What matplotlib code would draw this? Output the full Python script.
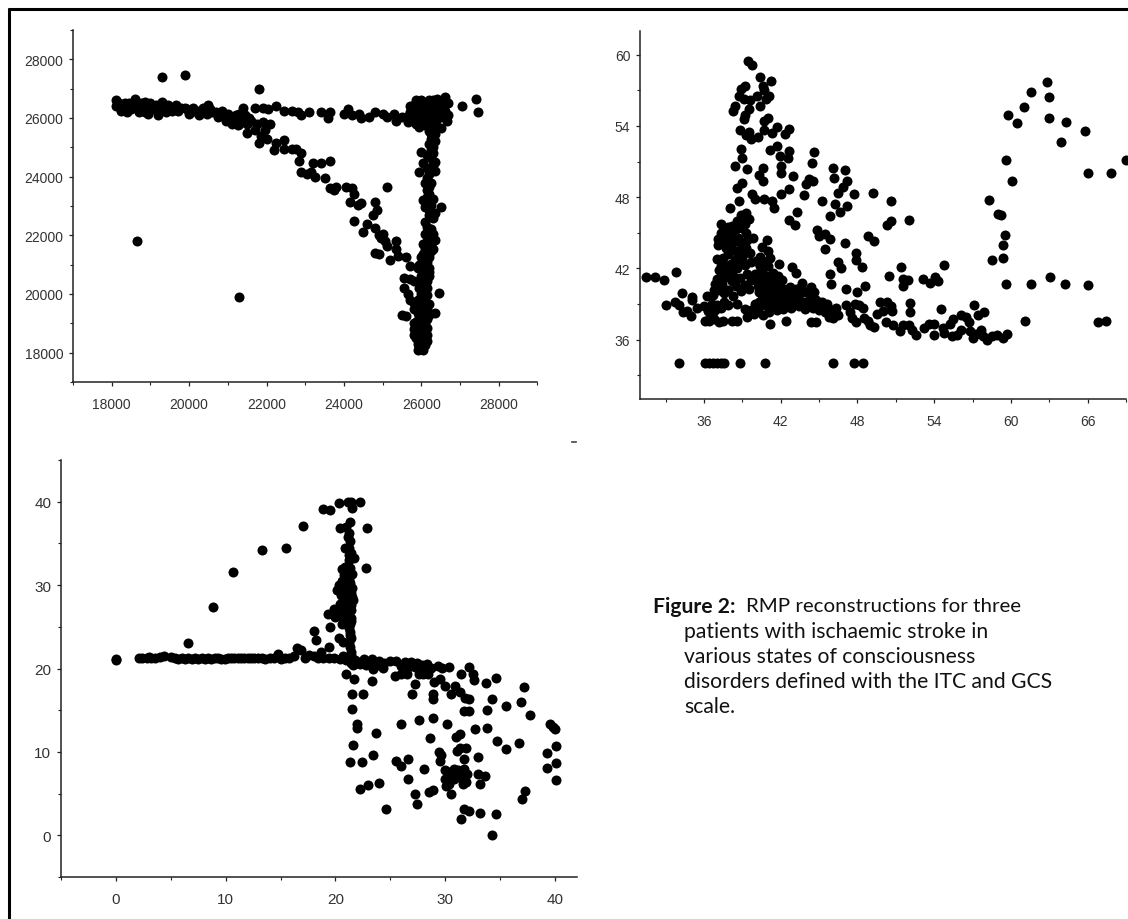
import matplotlib
matplotlib.use("Agg")
import matplotlib.pyplot as plt
from matplotlib.lines import Line2D
from matplotlib.ticker import MultipleLocator

W, H = 1128, 920

# ---------- Panel A ----------
a_outliers = [(19300,27400),(19900,27450),(21800,27000),(18650,21800),(21300,19900),(27050,26400),(27400,26650),(27450,26200),(25100,23650),(26500,22950),(26450,20050)]
a_band_left = [(18100,26620),(18110,26400),(18200,26500),(18300,26350),(18400,26200),(18450,26500),(18500,26300),(18600,26650),(18650,26400),(18700,26200),(18750,26500),(18850,26550),(18900,26300),(18950,26150),(19000,26500),(19100,26300),(19200,26100),(19300,26550),(19350,26300),(19450,26450),(19550,26250),(19650,26450),(19700,26250),(19900,26350),(20000,26150),(20100,26350),(20250,26100),(20350,26350),(20450,26150),(20500,26450),(20600,26200),(20750,26050),(20850,26250),(20950,25900),(21000,26150),(21100,25800),(21200,26100),(21250,25750),(21350,25950),(21400,26350),(21450,26100),(21500,25800)]
a_band_fill = [(18250,26250),(18350,26500),(18550,26500),(18800,26350),(18850,26200),(19050,26400),(19150,26450),(19250,26300),(19400,26200),(19600,26350),(19800,26350),(19950,26300),(20050,26200),(20200,26250),(20300,26200),(20400,26350),(20550,26300),(20700,26200),(20800,26150),(20900,26100),(21050,26000),(21150,25950),(21300,26150),(21550,26000),(21300,25800)]
a_band_right = [(21700,26350),(21900,26350),(22050,26300),(22250,26400),(22450,26250),(22650,26250),(22800,26200),(22900,26100),(23100,26200),(23400,26200),(23600,26000),(23650,26200),(24000,26150),(24100,26300),(24200,26100),(24400,26150),(24450,26000),(24650,26050),(24800,26200),(25000,26150),(25100,26050),(25300,26150),(25350,25900),(25500,26050),(25650,25850),(25700,26200),(25800,26450),(25900,26100),(25950,25700),(26000,26600),(26050,26300),(26150,26000),(26200,26600),(26300,26300),(26350,25800),(26400,26650),(26450,26100),(26500,25650),(26500,26400),(26600,26700),(26600,26250),(26650,25900),(26700,26500),(26700,26100),(25900,26350),(26100,26450),(26250,26150),(26400,26350),(26100,25750),(26300,25600),(26000,25950)]
a_corner_fill = [(25600,26050),(25700,26400),(25850,26600),(25800,26000),(25850,25800),(25950,26250),(25950,26500),(26050,26550),(26050,26100),(26100,25900),(26150,26300),(26150,26550),(26200,25800),(26250,26450),(26250,25950),(26300,26600),(26300,26050),(26350,26450),(26350,26200),(26400,25950),(26400,25700),(26450,26500),(26500,26250),(26550,26500),(26550,26050),(26200,25550),(26250,25450),(26350,25450)]
a_diagonal = [(21600,25900),(21750,25800),(21900,25850),(21500,25500),(21700,25600),(21850,25400),(21800,25150),(22000,25300),(22100,25800),(21950,25600),(22200,24900),(22250,25150),(22450,25250),(22450,24950),(22650,24950),(22750,24950),(22900,24800),(22850,24550),(22900,24150),(23050,24100),(23200,24450),(23150,24150),(23250,24000),(23400,24450),(23500,23950),(23650,24550),(23650,23600),(23750,23550),(23800,23650),(24050,23650),(24200,23600),(24250,23400),(24150,23150),(24350,23050),(24450,23100),(24250,22500),(24800,23150),(24850,22850),(24750,22700),(24600,22400),(24800,22250),(24500,22100),(24900,22000),(25000,22050),(25050,21800),(24950,21900),(25100,21650),(24800,21400),(24900,21350),(25350,21800),(25350,21550),(25200,21150),(25400,21300),(25600,21250),(25700,20950),(25900,20900),(25550,20550),(25700,20500),(25800,20450),(25550,20200),(25650,20000),(25700,19800),(25500,19300),(25800,19700),(25600,19250)]
a_vertical = [(26250,25300),(26350,25200),(26300,25000),(26300,24800),(26000,24850),(26150,24750),(26350,24500),(26050,24450),(26150,24300),(25950,24150),(26350,24200),(26200,24100),(26100,23800),(26200,23650),(26200,23400),(26050,23200),(26300,23250),(26250,23050),(26100,22950),(26350,22750),(26200,22700),(26100,22450),(26250,22200),(26100,22050),(26350,21850),(26200,21900),(26050,21700),(26300,21550),(26150,21400),(26000,21250),(26150,21100),(25950,21000),(26200,20900),(26100,20700),(26200,20600),(25950,20400),(26100,20300),(26050,20100),(26100,19900),(25900,19800),(26200,19650),(26050,19500),(25900,19350),(26350,19350),(26200,19300),(26050,19100),(25850,19050),(26000,18900),(26150,18850),(25800,18800),(25950,18650),(26100,18650),(25850,18500),(26150,18400),(26000,18400),(25900,18300),(26100,18250),(25900,18100),(26050,18100),(25950,18200),(25950,19500),(26000,19800)]
a_leg_fill = [(26200,25100),(26250,24900),(26250,24650),(26300,24400),(26250,24200),(26150,23950),(26250,23800),(26150,23550),(26150,23300),(26250,23200),(26150,23050),(26200,22850),(26300,22600),(26150,22300),(26200,22100),(26300,22050),(26150,21800),(26250,21700),(26100,21550),(26250,21450),(26050,21350),(26200,21250),(26050,21100),(26100,20950),(26050,20800),(26200,20750),(26000,20600),(26150,20450),(26050,20300),(26150,20200),(25950,20200),(26000,20000),(26150,19950),(26050,19800),(26150,19500),(25950,19650),(25800,19500),(26100,19350),(25950,19200),(26150,19150),(25900,18950),(26100,19000),(25800,19000),(26000,18750),(25900,18800),(26150,18600),(25850,18700),(26050,18500),(25950,18450),(25800,18600),(26100,18450),(26000,18250)]

# ---------- Panel B ----------
b_floor = [(34.04,34),(36.1,34),(36.4,34),(36.7,34),(37.0,34),(37.3,34),(37.6,34),(38.8,34),(40.8,34),(46.1,34),(47.75,34),(48.4,34)]
b_left = [(31.5,41.3),(32.2,41.25),(32.9,41),(33.85,41.7),(34.25,39.9),(33.05,38.9),(33.7,39.15),(34.05,38.9),(34.4,38.3),(34.65,38.4),(35,38),(35.05,39.6),(35.1,39.3),(35.45,38.7)]
b_right = [(59.75,54.9),(60.5,54.25),(61,55.6),(61.55,56.9),(62.85,57.7),(63,56.4),(63,54.65),(64.3,54.3),(63.9,52.65),(65.8,53.55),(59.6,51.1),(60.1,49.35),(66,50),(67.8,50.05),(69,51.1),(58.3,47.8),(59,46.6),(59.2,46.5),(59.55,44.85),(59.35,44),(59.35,42.9),(58.5,42.75),(59.6,40.7),(61.55,40.7),(63.05,41.3),(64.2,40.65),(66,40.6),(61.1,37.6),(66.8,37.5),(67.45,37.6)]
b_fan = [(39.45,59.5),(39.75,59.1),(40.4,58.1),(41.25,57.75),(39.2,57.35),(38.9,57.1),(40.65,57.35),(40.7,57),(38.75,56.5),(40.15,56.5),(41.1,56.5),(40.85,56.3),(39.1,56.3),(39.6,56.15),(40.4,55.7),(38.45,55.65),(38.3,55.25),(39.5,55.45),(39.2,54.9),(39.1,54.55),(41,54.65),(40.7,54.45),(38.8,53.65),(39.5,53.45),(39.25,53.2),(39.65,52.9),(40.2,53.05),(40.7,53.7),(41.3,53.4),(41.7,53.9),(42.3,53.3),(42.65,53.75),(38.9,52.05),(41.15,52),(41.75,52.3),(41.95,51.5),(42.65,51.9),(44.6,51.8),(42.55,51.3),(38.95,51.3),(38.45,50.6),(39.4,50.4),(40.6,50.5),(42,50.65),(44.45,50.9),(46.1,50.5),(47.05,50.25),(42,50),(40.3,49.9),(40.6,49.4),(43,49.8),(46.2,49.6),(44.25,49.55),(44.5,49.35),(43.95,49.1),(47.15,49.35),(38.95,49.2),(38.6,48.8),(42.65,48.7),(46.9,48.85),(39.75,48.3),(42,48.3),(46.5,48.35),(43.85,48.2),(47.7,48.3),(49.25,48.35),(40,47.85),(40.7,47.85),(41.35,47.7),(50.6,47.7),(45.25,47.65),(38.75,47.65),(46.25,47.45),(47.15,47.3),(41.5,47.05),(38,47.05),(43.25,46.75),(46.6,46.75),(45.85,46.45),(42.65,46.1),(43.1,45.65),(52.05,46.05),(50.6,46),(50.35,45.65),(44.85,45.2),(45,44.7),(45.5,44.9),(45.85,44.45),(48.85,44.7),(49.3,44.35),(47,44.15),(45.45,43.65),(47.85,43.3),(47.9,42.75),(46.45,42.5),(46.75,42),(48.35,42.15),(51.4,42.15),(54.8,42.3),(42.85,42.15),(43.2,41.65),(41.85,42.4),(45.85,41.5),(50.45,41.4),(53.1,41.15),(54.05,41.3),(51.6,41.15),(51.95,41),(53.7,40.75),(54.3,40.95),(51.6,40.55),(45.95,40.65),(48.6,40.5),(47.1,40.25),(47.95,40),(43.65,40.75)]
b_core = [(37.35,45.75),(37.1,44.5),(37.3,45),(37.1,44),(37.6,45.3),(37.9,45.5),(37.5,44.2),(37.9,44.7),(38.3,45.2),(38.6,46),(38.9,46.5),(39.3,46.7),(39.5,46.2),(39,45.4),(38.7,44.6),(38.2,44.1),(37.7,43.7),(38.5,43.5),(39,44),(39.3,45),(39.8,44.6),(39.6,43.3),(39,42.9),(38.4,42.7),(37,42.8),(37.5,42.9),(37.3,42.2),(37.4,41.5),(38,41.9),(38.6,42),(39.2,42.3),(39.7,42.5),(40.5,43.8),(40.9,44.4),(41,43.5),(40.4,43),(40.9,42.6),(41.2,42.9),(37,41.1),(36.9,40.7),(37.4,40.7),(37.9,40.2),(38.5,40.5),(39.2,40.6),(39.7,41),(40,41.5),(40.5,41.8),(41,41.4),(41.4,41.6),(41.8,41.4),(42.1,41),(40.2,40.5),(40.7,40.9),(41.2,40.7),(41.7,40.4),(42.2,40.3),(42.7,40.4),(40.5,39.8),(41,39.7),(41.5,39.5),(42,39.6),(42.5,39.5),(43,39.7),(43.5,39.9),(44,40),(44.4,40.4),(44.6,40),(43.8,39.2),(44.3,39.4),(44.8,39.3),(45.2,39.2),(45.6,39),(40.8,38.9),(41.3,38.8),(42.2,38.6),(42.8,38.7),(43.4,38.8),(43.9,38.6),(44.5,38.7),(45,38.5),(45.5,38.3),(46,38.4),(46.5,38.1),(46.1,37.8),(45.8,37.9),(47.1,38.9),(44.4,37.5),(44.8,37.5),(42.4,37.6),(41.2,37.3),(36.1,37.6),(36.4,37.6),(36.3,38.4),(36.6,39),(36.7,39.8),(36.2,39.7),(36,38.8),(37.2,37.5),(37.5,37.6),(38.2,37.6),(38.6,37.6),(39.4,37.9),(39.7,38.5),(39.2,38.6),(38.6,39),(38.3,39.7),(37.6,39.2),(37,38.9),(40.2,38.5),(40.6,38.1),(41.1,38.3)]
b_core_fill = [(37.4,44.6),(37.7,44.9),(38,44.2),(38.2,45.6),(38.4,44.7),(38.7,45.4),(38.9,45.9),(39.2,45.7),(38.8,44.2),(39.4,44.4),(38.2,43.6),(37.9,43.2),(38.7,43.1),(39.3,43.7),(39.1,43.3),(38.1,42.4),(38.8,42.5),(37.8,42.2),(37.2,41.9),(37.7,41.3),(38.3,41.4),(38.8,41.2),(39.4,41.5),(38.2,40.9),(37.2,40.2),(36.8,40.2),(37.6,39.9),(38.9,40.1),(39.5,40.3),(40.1,41),(40.6,41.2),(41.2,41.3),(41.6,41),(40.4,42.2),(40.7,42.3),(40.1,42.6),(41,42.2),(40.3,40),(40.8,40.3),(41.3,40.2),(41.8,40),(42.4,40),(42.9,40.1),(40.9,39.3),(41.4,39.1),(41.9,39.2),(42.4,39),(43,39.2),(43.4,39.3),(44,38.9),(44.7,39),(45.3,38.7),(45.8,38.6),(46.3,38.7),(43.2,40.3),(43.6,40.4),(40.3,39.2),(41.7,38.5),(40,39),(39.9,38.2),(36.6,38.1),(36.8,37.7),(36.9,38.5),(37.3,38.7),(37.9,38.9),(36.5,37.9)]
b_tail = [(47.6,37.8),(47.9,37.5),(48.1,38.9),(48.4,38.7),(47.8,39),(47.4,38.3),(48.5,37.8),(48.8,37.6),(49,37.2),(49.3,37.1),(49.5,38.2),(50,38.4),(49.8,39.2),(50.3,39.2),(50.6,38.8),(50.7,38.4),(50.2,37.5),(50.8,37.2),(51.3,36.7),(51.6,37.2),(52,37.2),(52.3,36.8),(52.6,36.4),(52.1,38.3),(52.1,39.1),(53.2,37),(53.6,37.3),(54,36.4),(54,37.3),(54.7,37),(54.8,36.6),(55.2,37.3),(55.5,37.7),(54.55,38.6),(55.4,36.3),(55.8,36.4),(56.1,36.8),(56.1,38.1),(56.5,37.9),(56.7,37.5),(56.8,36.7),(57,36.1),(57.3,36.5),(57.4,38.1),(57.1,38.9),(57.9,38.3),(57.7,36.8),(57.8,36.3),(58.1,36),(58.5,36.3),(58.9,36.4),(59.4,36.1),(59.7,36.5)]

# ---------- Panel C ----------
c_line = [(0,21),(0.05,21.1),(2.1,21.3),(2.4,21.2),(2.8,21.2),(3.0,21.4),(3.2,21.2),(3.6,21.2),(4.0,21.4),(4.4,21.5),(5,21.4),(5.4,21.2),(5.7,21.1),(6,21.3),(6.3,21.1),(6.6,21.2),(6.9,21.1),(7.2,21.2),(7.5,21.1),(7.8,21.2),(8.1,21.1),(8.4,21.3),(8.7,21.1),(9,21.3),(9.3,21.2),(9.6,21.1),(9.9,21.1),(10.2,21.3),(10.5,21.2),(10.8,21.3),(11.1,21.2),(11.4,21.2),(11.7,21.3),(12,21.2),(12.3,21.3),(12.6,21.2),(12.9,21.2),(13.3,21.3),(13.6,21.1),(14,21.2),(14.4,21.3),(14.8,21.7),(15,21.1),(15.4,21.3),(15.8,21.3),(16.2,21.5),(16.5,22.5),(16.9,22.2),(17.2,21.3),(17.6,21.6),(18,21.5),(18.4,21.3),(18.9,21.3),(19.4,21.3),(19.9,21.2),(20.4,21.1)]
c_arc = [(6.6,23),(8.8,27.4),(10.7,31.6),(13.3,34.2),(15.5,34.4),(17,37.1),(18.9,39.1),(19.5,39),(20.3,39.9),(21.1,40),(21.4,40),(21.5,39.2),(22.2,40),(22.9,36.8),(22.8,32),(20.4,36.8),(21,37),(21.3,37.6)]
c_spike = [(21.2,36.2),(21.3,35.3),(21.2,34.5),(20.9,34.4),(21.4,33.8),(21.7,33.2),(21.2,33),(20.9,32.2),(20.6,31.9),(21.3,32),(21.5,31.3),(21,31),(20.6,30.5),(20.3,30),(21.3,30.2),(21.5,29.6),(20.8,29.8),(20.1,29.4),(21,29),(21.5,28.6),(20.7,28.4),(21.6,28.2),(20.4,27.7),(21,27.5),(21.4,27),(19.9,27.1),(20.4,26.9),(19.3,26.5),(20,26.2),(20.7,26.4),(21.4,26.1),(19.5,25),(20.6,25.3),(21.3,25.3),(21.3,24.4),(18,24.5),(18.2,23.4),(20.3,23.7),(21.4,23.6),(20.7,23.2),(21.3,22.6),(19.4,22.6),(21.4,22),(18.7,22)]
c_spike_fill = [(21.1,35.8),(21.2,33.6),(21.3,31.6),(20.8,31.2),(21.2,30.6),(20.6,29.3),(21.1,29.5),(21.4,29.1),(20.5,28.8),(21.2,28.3),(20.9,27.9),(21.4,27.6),(20.6,27.4),(21.1,26.8),(20.8,26.9),(21.2,26.2),(20.5,26.3),(21,25.7),(21.4,25.7),(21.2,24.9),(21.3,24),(21.2,23.1),(21.4,21.6),(21,21.3),(20.7,21.5)]
c_band = [(21,21),(21.4,20.7),(21.8,21),(22.2,20.5),(22.6,21.1),(23,20.6),(23.3,21.1),(23.7,20.4),(24,20.9),(24.3,20.1),(25,20.9),(25.5,20.9),(26.3,20.8),(26.9,20.8),(27.4,20.6),(27.9,20.4),(28.3,20.5),(28.7,20.1),(29.3,20.3),(29.7,20.1),(30.3,20.2),(26,20.3),(26.6,20.2),(27.8,20),(28.2,19.9)]
c_band_fill = [(21.6,20.4),(22,20.6),(22.4,20.9),(22.8,20.4),(23.2,20.5),(23.5,20.7),(24,20.4),(24.4,20.6),(23.4,19.9),(26.8,20.3),(27.2,20.2),(27.6,20.3),(28.1,20.2)]
c_scatter = [(21,19.4),(21.7,18.7),(21.5,17),(22.5,17),(23.3,18.5),(21.5,15.2),(22,13.3),(22,12.9),(23.7,12.3),(21.6,10.8),(21.3,8.8),(22.4,8.8),(23.4,9.6),(22.2,5.6),(23,6),(24,6.3),(24.6,3.1),(25.5,8.9),(26,8.3),(26.6,9.2),(26.6,6.8),(27.2,5),(27.4,3.8),(28.1,8),(28.5,5.2),(28.9,5.4),(28.6,11.7),(26,13.3),(27.6,13.8),(28.9,14.1),(30.2,13.3),(29.4,10),(29.6,9.6),(29.5,8.9),(30,7.8),(30,6.8),(30.3,6.2),(30.5,7.3),(30.8,8),(31,7.1),(31.2,7.8),(31.5,6.8),(31.7,8),(32,7.3),(31.9,6.4),(31.6,6.2),(30.5,5),(30.1,5.9),(31.1,10.1),(31.3,10.5),(31.9,10.5),(31.7,9.2),(31,11.8),(31.3,12.2),(33,9.4),(33,7.4),(33.6,7.1),(33.2,6.1),(31.4,2),(31.7,3.1),(32.2,2.9),(33.2,2.7),(34.3,0),(34.6,2.5),(32.7,12.7),(33.8,12.9),(34.7,11.3),(35.5,10.3),(36.7,11.1),(37,4.3),(37.3,5.3),(39.3,9.9),(39.3,8.1),(40.1,10.7),(40.1,8.7),(40.1,6.6),(39.5,13.3),(39.8,13),(40,12.7),(37.7,14.4),(36.9,16),(37.2,17.8),(35.5,15.5),(34.3,16.3),(33.8,15),(31.7,14.9),(32.2,14.9),(32.2,16.4),(31.8,16.5),(31.3,17.2),(30.9,17.9),(30.5,17),(30,17.9),(29.5,18.7),(29,18.4),(28.9,17),(28.9,16.4),(27.6,19.4),(27.2,18.1),(27,16.9),(25.4,19.1),(26,19.3),(26.5,19.4),(28,19.3),(28.4,19.3),(31.4,19.4),(32.2,20.2),(32.5,19.3),(32.6,18.6),(33.7,18.3),(34.6,18.9),(30.3,7.6),(30.8,6.7),(31.3,7.4),(31.6,7.3)]

a_xticks = [18000, 20000, 22000, 24000, 26000, 28000]
a_yticks = [18000, 20000, 22000, 24000, 26000, 28000]
b_xticks = [36, 42, 48, 54, 60, 66]
b_yticks = [36, 42, 48, 54, 60]
c_xticks = [0, 10, 20, 30, 40]
c_yticks = [0, 10, 20, 30, 40]

caption_bold = "Figure 2:"
caption_first = "RMP reconstructions for three"
caption_rest = ["patients with ischaemic stroke in", "various states of consciousness",
                "disorders defined with the ITC and GCS", "scale."]

fig = plt.figure(figsize=(W / 100, H / 100), dpi=100, facecolor="white")


def px_axes(left, right, top, bottom):
    return fig.add_axes([left / W, 1 - bottom / H, (right - left) / W, (bottom - top) / H])


def style(ax, xlim, ylim, xt, yt, xminor, yminor, fs):
    ax.set_xlim(*xlim)
    ax.set_ylim(*ylim)
    ax.patch.set_alpha(0)
    for s in ("top", "right"):
        ax.spines[s].set_visible(False)
    for s in ("left", "bottom"):
        ax.spines[s].set_linewidth(1.1)
        ax.spines[s].set_color("#222222")
    ax.set_xticks(xt)
    ax.set_yticks(yt)
    ax.xaxis.set_minor_locator(MultipleLocator(xminor))
    ax.yaxis.set_minor_locator(MultipleLocator(yminor))
    ax.tick_params(which="major", length=3, width=0.9, color="#222222", labelsize=fs,
                   labelcolor="#333333")
    ax.tick_params(axis="x", which="major", pad=7.5)
    ax.tick_params(axis="y", which="major", pad=4)
    ax.tick_params(which="minor", length=2, width=0.8, color="#222222")
    for lab in ax.get_xticklabels() + ax.get_yticklabels():
        lab.set_fontfamily("Liberation Sans")


def dots(ax, *groups):
    for g in groups:
        xs, ys = zip(*g)
        ax.scatter(xs, ys, s=52, c="black", linewidths=0, clip_on=False, zorder=3)


ax_a = px_axes(73, 537.5, 31, 383)
style(ax_a, (17000, 29000), (17000, 29000), a_xticks, a_yticks, 1000, 1000, 10)
dots(ax_a, a_outliers, a_band_left, a_band_fill, a_band_right, a_corner_fill, a_diagonal, a_vertical, a_leg_fill)

ax_b = px_axes(640, 1126, 32, 400)
style(ax_b, (31, 69), (31, 62), b_xticks, b_yticks, 3, 3, 10)
dots(ax_b, b_floor, b_left, b_right, b_fan, b_core, b_core_fill, b_tail)

ax_c = px_axes(61, 577, 461, 878)
style(ax_c, (-5, 42), (-5, 45), c_xticks, c_yticks, 5, 5, 11)
dots(ax_c, c_line, c_arc, c_spike, c_spike_fill, c_band, c_band_fill, c_scatter)

# page frame
fig.add_artist(Line2D([8.5 / W, 8.5 / W], [0, 1 - 9 / H], color="black", lw=2.2, solid_capstyle="butt"))
fig.add_artist(Line2D([7.5 / W, 1], [1 - 10 / H, 1 - 10 / H], color="black", lw=2.2, solid_capstyle="butt"))
fig.add_artist(Line2D([572 / W, 576 / W], [1 - 443 / H, 1 - 443 / H], color="#444444", lw=1.2))

# caption
cap_font = "Lato"
fs_cap = 15.2
t = fig.text(653 / W, 1 - 607 / H, caption_bold, fontsize=fs_cap, fontweight="bold",
             family=cap_font, va="center", ha="left", color="#111111")
fig.canvas.draw()
bb = t.get_window_extent()
fig.text(746 / W, 1 - 607 / H, caption_first, fontsize=fs_cap * 0.97, family=cap_font,
         va="center", ha="left", color="#111111")
line_y = [632.5, 657, 682, 707]
for txt, y in zip(caption_rest, line_y):
    fig.text(684 / W, 1 - y / H, txt, fontsize=fs_cap, family=cap_font, va="center",
             ha="left", color="#111111")

fig.savefig("out.png", dpi=100, facecolor="white")
